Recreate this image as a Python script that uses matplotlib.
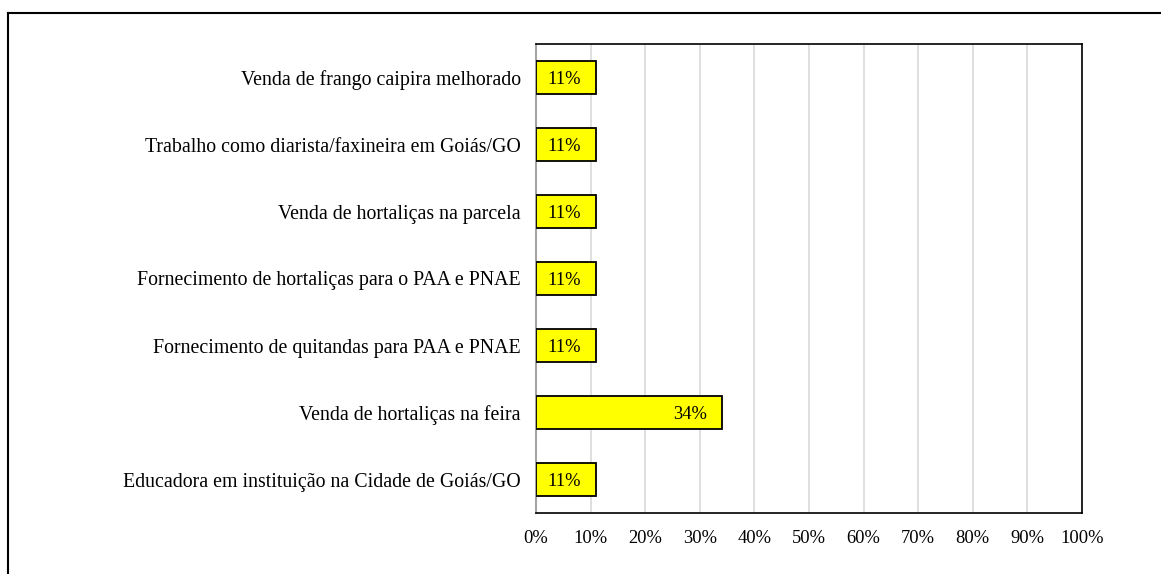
import matplotlib
matplotlib.use("Agg")
import matplotlib.pyplot as plt
from matplotlib.lines import Line2D

categories = [
    "Educadora em instituição na Cidade de Goiás/GO",
    "Venda de hortaliças na feira",
    "Fornecimento de quitandas para PAA e PNAE",
    "Fornecimento de hortaliças para o PAA e PNAE",
    "Venda de hortaliças na parcela",
    "Trabalho como diarista/faxineira em Goiás/GO",
    "Venda de frango caipira melhorado",
]
values = [11, 34, 11, 11, 11, 11, 11]
xticks = [0, 10, 20, 30, 40, 50, 60, 70, 80, 90, 100]
xtick_labels = [f"{t}%" for t in xticks]

plt.rcParams['font.family'] = ['Liberation Serif', 'DejaVu Serif']

fig = plt.figure(figsize=(11.61, 5.74), dpi=100)
ax = fig.add_axes([536/1161, 1-513/574, (1082-536)/1161, (513-44)/574])

y = list(range(len(categories)))
bars = ax.barh(y, values, height=0.5, color="#ffff00", edgecolor="#000000", linewidth=1.3, zorder=3)
for b, v in zip(bars, values):
    ax.text(v - 2.7, b.get_y() + b.get_height()/2 - 0.03, f"{v}%", ha="right", va="center",
            fontsize=13.3, color="#000000", zorder=4)

ax.set_xlim(0, 100)
ax.set_ylim(-0.5, len(categories) - 0.5)
ax.set_xticks(xticks)
ax.set_xticklabels(xtick_labels, fontsize=13.3)
ax.set_yticks(y)
ax.set_yticklabels(categories, fontsize=14.3)
ax.tick_params(axis="both", length=0)
ax.tick_params(axis="y", pad=11)
ax.tick_params(axis="x", pad=12.5)
ax.xaxis.grid(True, color="#d9d9d9", linewidth=1.2, zorder=0)
ax.set_axisbelow(True)
for s in ["top", "right", "bottom"]:
    ax.spines[s].set_color("#000000")
    ax.spines[s].set_linewidth(1.2)
ax.spines["left"].set_color("#a6a6a6")
ax.spines["left"].set_linewidth(1.5)

# outer frame (partially visible)
fig.add_artist(Line2D([8/1161, 8/1161], [0, 1-13/574], transform=fig.transFigure, color="black", linewidth=1.5))
fig.add_artist(Line2D([8/1161, 1], [1-13/574, 1-13/574], transform=fig.transFigure, color="black", linewidth=1.5))

fig.savefig("out.png", dpi=100)
